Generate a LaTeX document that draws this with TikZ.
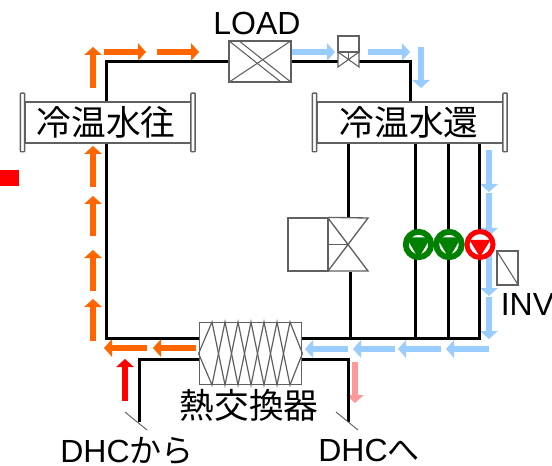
\documentclass[tikz,border=0pt]{standalone}
\usepackage{fontspec}
\setmainfont{Liberation Sans}
\newfontfamily\cjk{Noto Sans CJK JP}
\usetikzlibrary{arrows.meta,calc}
\definecolor{flowor}{HTML}{FF6600}
\definecolor{flowbl}{HTML}{99CCFF}
\definecolor{flowpk}{HTML}{FF9999}
\definecolor{pumpgr}{HTML}{008000}
\definecolor{edgegr}{HTML}{606060}
\tikzset{
  pipe/.style={black,line width=2.25pt,line cap=butt,line join=miter},
  thinln/.style={edgegr,line width=0.8pt},
  flow/.style={line width=5.2pt,-{Triangle[width=13pt,length=6pt]}},
  hdr/.style={draw=edgegr,fill=white,line width=1pt,minimum width=125pt,minimum height=30.75pt,inner sep=0pt},
  flange/.style={draw=edgegr,fill=white,line width=1pt,minimum width=3.2pt,minimum height=44pt,inner sep=0pt,rounded corners=0.5pt},
  devbox/.style={draw=edgegr,fill=white,line width=0.9pt,inner sep=0pt},
  pumpn/.style={circle,fill=white,line width=3.75pt,minimum size=19.5pt,inner sep=0pt},
  pumpg/.style={circle,fill=white,draw=pumpgr,line width=4.4pt,minimum size=19.1pt,inner sep=0pt},
  lab/.style={inner sep=0pt,font=\fontsize{24}{24}\selectfont},
  kan/.style={inner sep=0pt,font=\cjk\fontsize{26}{26}\selectfont},
  tick/.style={edgegr,line width=0.7pt}
}
\begin{document}
\begin{tikzpicture}[x=0.75pt,y=-0.75pt]
\useasboundingbox (0,0) rectangle (552,466);
\clip (0,0) rectangle (552,466);
% flow arrows
\foreach \a/\b/\c/\d in {93/88/93/47,104/52/146/52,157/52/199/52,93/187/93/146,93/236/93/196,93/291/93/250,93/341/93/299,147/348/104/348,196/348/153/348}
  \draw[flow,flowor] (\a,\b) -- (\c,\d);
\foreach \a/\b/\c/\d in {292/52/335/52,368/52/410/52,421/47/421/88,489/150/489/192,489/193/489/236,489/254/489/296,489/297/489/339,489/349/446/349,441/349/398/349,395/349/353/349,348/349/305/349}
  \draw[flow,flowbl] (\a,\b) -- (\c,\d);
\draw[flow,red] (125,401) -- (125,359);
\draw[flow,flowpk] (355,362) -- (355,403);
% red marker
\fill[red] (0,170) rectangle (19,186);
% named junctions
\coordinate (tl) at (106.5,62);
\coordinate (tr) at (410,62);
\coordinate (bl) at (106.5,338);
\coordinate (br) at (479,338);
\coordinate (v3t) at (348,143);
\coordinate (v3b) at (350,338);
\coordinate (p1b) at (415,338);
\coordinate (p2b) at (448,338);
\coordinate (dfc) at (139,359);
\coordinate (dfe) at (139,422);
\coordinate (dtc) at (348,359);
\coordinate (dte) at (348,422);
% devices
\node[hdr] (hl) at (108.5,122.5) {};
\node[flange] (hl1) at (22.5,122.5) {};
\node[flange] (hl2) at (193,122.5) {};
\node[hdr,minimum width=139.5pt] (hr) at (410,122.5) {};
\node[flange] (hr1) at (314.5,122.5) {};
\node[flange] (hr2) at (505,122.5) {};
\node[devbox,minimum width=46.5pt,minimum height=30.75pt] (load) at (260,61.5) {};
\node[devbox,minimum width=15.75pt,minimum height=12pt] (va) at (348.5,44) {};
\coordinate (vl) at (338,60);
\coordinate (vr) at (359,60);
\node[devbox,minimum width=30pt,minimum height=39.75pt] (v3) at (308,244.5) {};
\node[devbox,minimum width=77pt,minimum height=47pt] (hx) at (250.5,353.5) {};
\node[devbox,minimum width=15.75pt,minimum height=25.5pt] (inv) at (507.5,268) {};
% pipes
\draw[pipe] (hl.north -| tl) -- (tl) -- (load.west |- tl);
\draw[pipe] (load.east |- tl) -- (vl |- tl);
\draw[pipe] (vr |- tl) -- (tr) -- (hr.north -| tr);
\draw[pipe] (hl.south -| bl) -- (bl) -- (hx.west |- bl);
\draw[pipe] (hx.east |- br) -- (br) -- (hr.south -| br);
\draw[pipe] (hr.south -| v3t) -- (v3.north east -| v3t);
\draw[pipe] (v3b |- v3.south) -- (v3b);
\draw[pipe] (hr.south -| p1b) -- (p1b);
\draw[pipe] (hr.south -| p2b) -- (p2b);
\draw[pipe] (hx.west |- dfc) -- (dfc) -- (dfe);
\draw[pipe] (hx.east |- dtc) -- (dtc) -- (dte);
% break ticks
\draw[tick] ($(dfe)+(-14,-10)$) -- ($(dfe)+(8,8)$);
\draw[tick] ($(dte)+(-12,-10)$) -- ($(dte)+(10,8)$);
% LOAD interior
\draw[thinln] (load.north west) -- ($(load.south east)+(-10,0)$);
\draw[thinln] ($(load.north west)+(10,0)$) -- (load.south east);
\draw[thinln] (load.south west) -- (load.north east);
% two-way valve
\draw[thinln,fill=white] (338,52) -- (359,67) -- (359,52) -- (338,67) -- cycle;
\draw[thinln] (va.south) -- (348.5,59.5);
% three-way valve
\draw[thinln,line width=1pt,fill=white] (v3.north east) -- (368,218) -- (328,271) -- (368,271) -- (328,218);
\draw[thinln,line width=1pt] (v3.east) -- (348,244.5);
% heat exchanger
\draw[thinln,line width=0.9pt] (hx.west) -- (212,322) -- (225,385) -- (238,322) -- (251,385) -- (264,322) -- (277,385) -- (290,322) -- (hx.east);
\draw[thinln,line width=0.9pt] (hx.west) -- (212,385) -- (225,322) -- (238,385) -- (251,322) -- (264,385) -- (277,322) -- (290,385) -- (hx.east);
% inverter
\draw[thinln] (inv.north west) -- (inv.south east);
% pumps
\node[pumpg] (p1) at (418.5,244.5) {};
\node[pumpg] (p2) at (449,244.5) {};
\node[pumpn,draw=red] (p3) at (480,244.5) {};
\fill[pumpgr] ($(p1)+(-12.2,-7)$) -- ($(p1)+(12.2,-7)$) -- ($(p1)+(0,14)$) -- cycle;
\fill[pumpgr] ($(p2)+(-12.2,-7)$) -- ($(p2)+(12.2,-7)$) -- ($(p2)+(0,14)$) -- cycle;
\fill[red] ($(p3)+(-10.5,-4.5)$) -- ($(p3)+(10.5,-4.5)$) -- ($(p3)+(0,12.5)$) -- cycle;
% labels
\node[lab,anchor=base] (tload) at (257,35) {LOAD};
\node[lab,anchor=base west] (tinv) at (500.5,315) {INV};
\node[kan] (thl) at (106,122) {冷温水往};
\node[kan] (thr) at (409,122) {冷温水還};
\node[kan] (thx) at (249,405) {熱交換器};
\node[lab,anchor=base] (tfrom) at (127,462) {DHC{\cjk から}};
\node[lab,anchor=base] (tto) at (369,461) {DHC{\cjk へ}};
\end{tikzpicture}
\end{document}
